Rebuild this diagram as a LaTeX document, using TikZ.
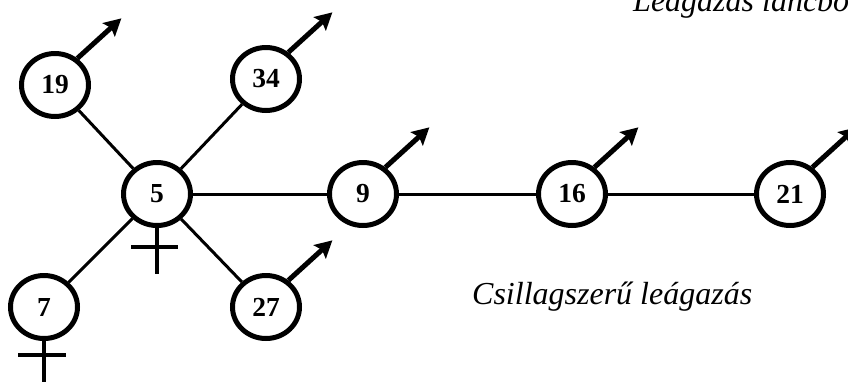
\documentclass[tikz,border=0pt]{standalone}
\usepackage{fontspec}
\setmainfont{Liberation Serif}
\usetikzlibrary{shapes.geometric,arrows.meta}

\begin{document}
\begin{tikzpicture}[
    x=1pt, y=-1pt,
    vertex/.style={ellipse, draw, line width=5pt, minimum width=67pt,
        minimum height=63pt, inner sep=0pt, font=\fontsize{27.5}{27.5}\selectfont\bfseries},
    branch/.style={draw, line width=3pt},
    outarrow/.style={draw, line width=5pt, -{Stealth[length=17pt, width=18pt, inset=3pt]}},
    ground/.style={draw, line width=3.2pt},
    caption/.style={font=\fontsize{32}{32}\selectfont\itshape, inner sep=0pt, anchor=base west}
]
\useasboundingbox (0,0) rectangle (848,381);
\clip (0,0) rectangle (848,381);

\node (Node5) [vertex] at (157,194) {5};
\node (Node19) [vertex] at (55,85) {19};
\node (Node34) [vertex] at (266,79) {34};
\node (Node7) [vertex] at (44,307) {7};
\node (Node27) [vertex] at (266,307) {27};
\node (Node9) [vertex] at (363,194) {9};
\node (Node16) [vertex] at (572,194) {16};
\node (Node21) [vertex] at (790,194) {21};

\draw [branch] (Node5) -- (Node19);
\draw [branch] (Node5) -- (Node34);
\draw [branch] (Node5) -- (Node7);
\draw [branch] (Node5) -- (Node27);
\draw [branch] (Node5) -- (Node9);
\draw [branch] (Node9) -- (Node16);
\draw [branch] (Node16) -- (Node21);

\foreach \n in {19,34,27,9,16,21} {
  \coordinate (Tip\n) at ([shift={(44,-40)}]Node\n.50);
  \draw [outarrow] (Node\n.50) -- (Tip\n);
}

\coordinate (Foot5) at (157,274);
\coordinate (BarL5) at (131,247);
\coordinate (BarR5) at (178,247);
\draw [ground] (Node5.south) -- (Foot5);
\draw [ground] (BarL5) -- (BarR5);

\coordinate (Foot7) at (44,385);
\coordinate (BarL7) at (18,355);
\coordinate (BarR7) at (66,355);
\draw [ground] (Node7.south) -- (Foot7);
\draw [ground] (BarL7) -- (BarR7);

\node (StarText) [caption] at (472,304) {Csillagszerű leágazás};
\node (ChainText) [caption] at (633,11) {Leágazás láncból};
\end{tikzpicture}
\end{document}
